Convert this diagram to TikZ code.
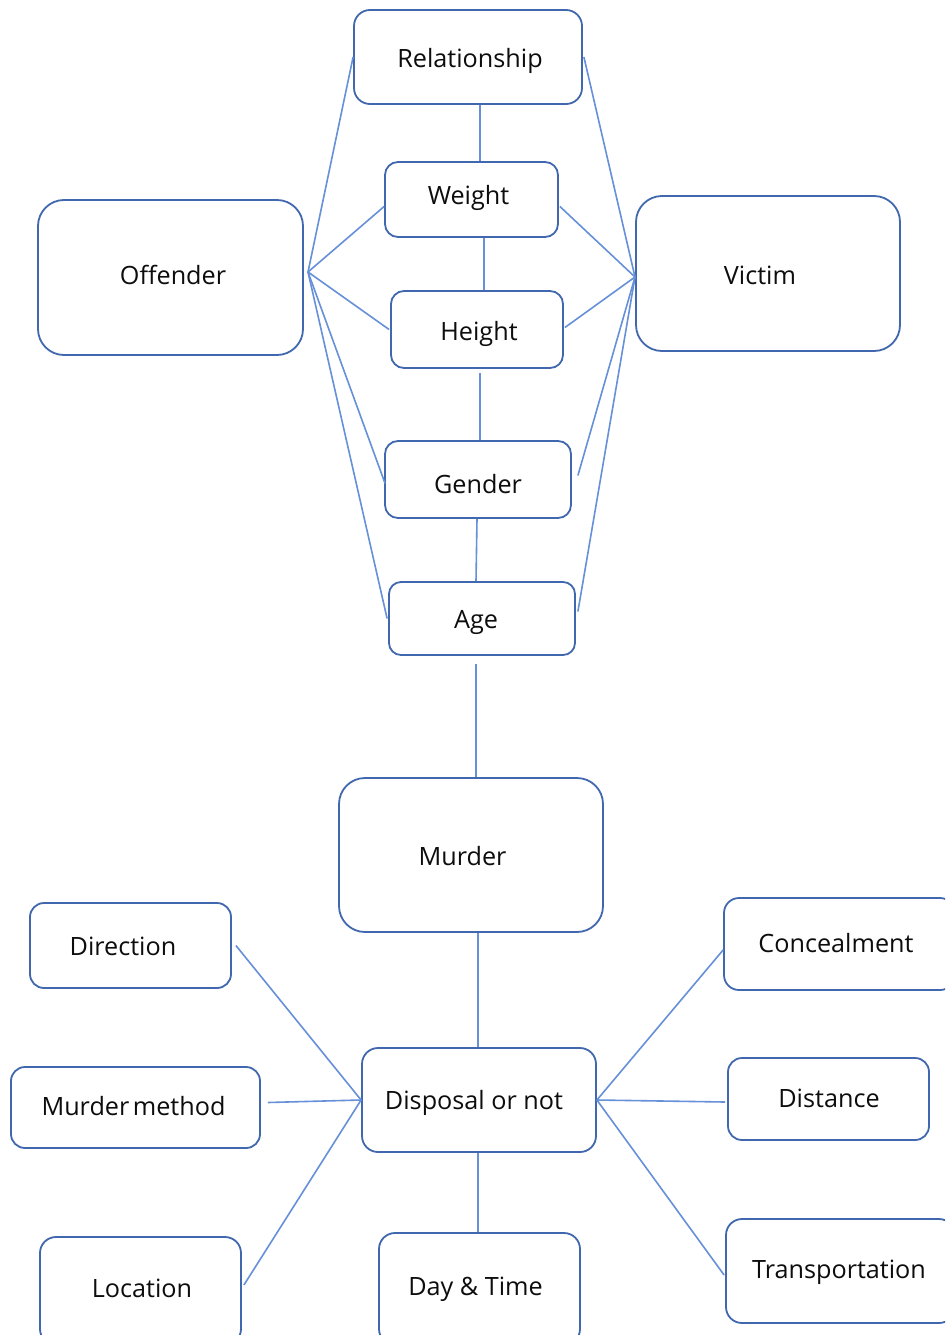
\documentclass[tikz,border=0pt]{standalone}
\usepackage{fontspec}
\setmainfont{Open Sans}[Ligatures={NoCommon}]
\definecolor{boxblue}{HTML}{4168AE}
\definecolor{linkblue}{HTML}{6690D8}
% box label: horizontal nudge, vertical raise, text
\newcommand\bt[3]{\kern#1\kern#1\raisebox{#2}{#3}}
\begin{document}
\begin{tikzpicture}[x=1pt,y=-1pt,
  box/.style={draw=boxblue, line width=1.8pt, fill=white, inner sep=0pt,
    font=\fontsize{25.2}{29}\selectfont, text=black!95,
    text height=20pt, text depth=6pt},
  link/.style={draw=linkblue, line width=1.6pt}]
\fill[white] (0,0) rectangle (945,1335);
\useasboundingbox (0,0) rectangle (945,1335);
\clip (0,0) rectangle (945,1335);

% upper group: attributes shared by offender and victim
\node[box, minimum width=228pt, minimum height=94pt, rounded corners=16pt] (rel) at (468,57) {\bt{2pt}{-4pt}{Relationship}};
\node[box, minimum width=173pt, minimum height=75pt, rounded corners=13pt] (weight) at (471.5,199.5) {\bt{-3pt}{2.5pt}{Weight}};
\node[box, minimum width=265pt, minimum height=155pt, rounded corners=26pt] (off) at (170.5,277.5) {\bt{2.5pt}{0.5pt}{Offender}};
\node[box, minimum width=264pt, minimum height=155pt, rounded corners=26pt] (vic) at (768,273.5) {\bt{-8pt}{-3.8pt}{Victim}};
\node[box, minimum width=172pt, minimum height=77pt, rounded corners=13pt] (height) at (477,329.5) {\bt{2pt}{-3.5pt}{Height}};
\node[box, minimum width=186pt, minimum height=77pt, rounded corners=13pt] (gender) at (478,479.5) {\bt{0pt}{-7pt}{Gender}};
\node[box, minimum width=186pt, minimum height=73pt, rounded corners=12pt] (age) at (482,618.5) {\bt{-6pt}{-2.5pt}{Age}};

% central event
\node[box, minimum width=264pt, minimum height=154pt, rounded corners=26pt] (murder) at (471,855) {\bt{-8.5pt}{-3pt}{Murder}};

% lower group: disposal and its attributes
\node[box, minimum width=201pt, minimum height=85pt, rounded corners=14pt] (dir) at (130.5,945.5) {\bt{-7.5pt}{-2.5pt}{Direction}};
\node[box, minimum width=231pt, minimum height=92pt, rounded corners=15pt] (conc) at (839.5,944) {\bt{-3.5pt}{-1.7pt}{Concealment}};
\node[box, minimum width=234pt, minimum height=104pt, rounded corners=16pt] (disp) at (479,1100) {\bt{-5pt}{-2pt}{Disposal or not}};
\node[box, minimum width=249pt, minimum height=81pt, rounded corners=14pt] (mm) at (135.5,1107.5) {\bt{-2pt}{-0.5pt}{Murder\hspace{-0.12em} method}};
\node[box, minimum width=201pt, minimum height=82pt, rounded corners=14pt] (dist) at (828.5,1099) {\bt{0.5pt}{-1.3pt}{Distance}};
\node[box, minimum width=201pt, minimum height=108pt, rounded corners=16pt] (loc) at (140.5,1291) {\bt{1.5pt}{0.3pt}{Location}};
\node[box, minimum width=201pt, minimum height=112pt, rounded corners=16pt] (day) at (479.5,1289) {\bt{-4pt}{1pt}{Day \& Time}};
\node[box, minimum width=229pt, minimum height=104pt, rounded corners=16pt] (trans) at (840.5,1271) {\bt{-1.5pt}{-0.3pt}{Transportation}};

% hubs where the fans meet
\coordinate (offhub) at (308,272);
\coordinate (vichub) at (635,277);

% vertical chain
\draw[link] ([xshift=12pt]rel.south) -- ([xshift=12pt]rel.south |- weight.north);
\draw[link] ([xshift=12.5pt]weight.south) -- ([xshift=12.5pt]weight.south |- height.north);
\draw[link] ([xshift=3pt,yshift=-4pt]height.south) -- ([xshift=3pt]height.south |- gender.north);
\draw[link] ([xshift=-1pt]gender.south) -- ([xshift=-6pt]age.north);
\draw[link] ([xshift=-6pt,yshift=-8pt]age.south) -- ([xshift=-6pt]age.south |- murder.north);
\draw[link] ([xshift=7pt]murder.south) -- ([xshift=7pt]murder.south |- disp.north);
\draw[link] ([xshift=-1pt]disp.south) -- ([xshift=-1pt]disp.south |- day.north);

% offender fan
\draw[link] (offhub) -- (rel.west);
\draw[link] (offhub) -- ([yshift=-7pt]weight.west);
\draw[link] (offhub) -- ([xshift=-1pt]height.west);
\draw[link] (offhub) -- ([xshift=1pt,yshift=-4pt]gender.west);
\draw[link] (offhub) -- ([xshift=-1pt]age.west);

% victim fan
\draw[link] (vichub) -- ([xshift=1pt]rel.east);
\draw[link] (vichub) -- ([xshift=1pt,yshift=-7pt]weight.east);
\draw[link] (vichub) -- ([xshift=1pt,yshift=2pt]height.east);
\draw[link] (vichub) -- ([xshift=6pt,yshift=4pt]gender.east);
\draw[link] (vichub) -- ([xshift=2pt,yshift=7pt]age.east);

% disposal fans
\draw[link] (disp.west) -- ([xshift=4pt]dir.east);
\draw[link] (disp.west) -- ([xshift=7pt,yshift=5pt]mm.east);
\draw[link] (disp.west) -- ([xshift=2pt,yshift=6pt]loc.east);
\draw[link] (disp.east) -- ([yshift=-6pt]conc.west);
\draw[link] (disp.east) -- ([xshift=-2pt,yshift=-3pt]dist.west);
\draw[link] (disp.east) -- ([xshift=-1pt,yshift=-4pt]trans.west);
\end{tikzpicture}
\end{document}
